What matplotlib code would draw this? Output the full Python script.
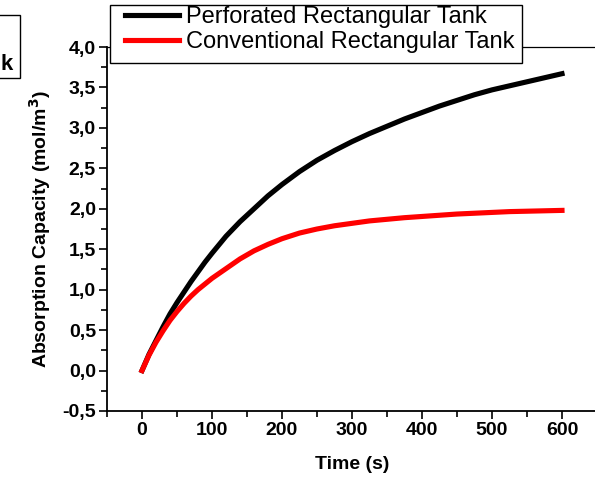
import matplotlib
matplotlib.use("Agg")
import matplotlib.pyplot as plt
from matplotlib.ticker import MultipleLocator, FuncFormatter
from matplotlib.patches import Rectangle

# time (s) and absorption capacity (mol/m3)
time_s = [0, 10, 20, 30, 40, 50, 60, 70, 80, 90, 100, 120, 140, 160, 180, 200, 225, 250,
          275, 300, 325, 350, 375, 400, 425, 450, 475, 500, 525, 550, 575, 600]
perforated = [0.0, 0.20, 0.37, 0.54, 0.70, 0.84, 0.97, 1.10, 1.22, 1.34, 1.45, 1.66, 1.84,
              2.00, 2.16, 2.30, 2.46, 2.60, 2.72, 2.83, 2.93, 3.02, 3.11, 3.19, 3.27, 3.34,
              3.41, 3.47, 3.52, 3.57, 3.62, 3.67]
conventional = [0.0, 0.19, 0.35, 0.49, 0.62, 0.73, 0.83, 0.92, 1.00, 1.07, 1.14, 1.26, 1.38,
                1.48, 1.56, 1.63, 1.70, 1.75, 1.79, 1.82, 1.85, 1.87, 1.89, 1.905, 1.92, 1.935,
                1.945, 1.955, 1.965, 1.97, 1.975, 1.98]
series_names = ["Perforated Rectangular Tank", "Conventional Rectangular Tank"]

plt.rcParams['font.family'] = ['Liberation Sans', 'DejaVu Sans']

W, H = 595, 478
fig = plt.figure(figsize=(W / 100, H / 100), dpi=100)
ax = fig.add_axes([107 / W, 1 - 411 / H, (597 - 107) / W, (411 - 47) / H])

ax.plot(time_s, perforated, color='black', lw=3.7, label=series_names[0])
ax.plot(time_s, conventional, color='red', lw=3.7, label=series_names[1])

ax.set_xlim(-50, 650)
ax.set_ylim(-0.5, 4.0)
ax.xaxis.set_major_locator(MultipleLocator(100))
ax.xaxis.set_minor_locator(MultipleLocator(50))
ax.yaxis.set_major_locator(MultipleLocator(0.5))
ax.yaxis.set_minor_locator(MultipleLocator(0.25))
ax.yaxis.set_major_formatter(FuncFormatter(lambda v, p: f"{v:.1f}".replace('.', ',')))
ax.tick_params(which='both', direction='out', top=False, right=False, width=1.2)
ax.tick_params(which='major', length=6, labelsize=14, pad=2)
ax.tick_params(which='minor', length=4)
for lab in ax.get_xticklabels() + ax.get_yticklabels():
    lab.set_fontweight('bold')
for s in ['left', 'bottom']:
    ax.spines[s].set_linewidth(1.3)
ax.spines['top'].set_linewidth(0.9)

ax.set_xlabel("Time (s)", fontsize=14, fontweight='bold', labelpad=12)
ax.set_ylabel("Absorption Capacity (mol/m$^\\mathbf{3}$)", fontsize=14, fontweight='bold', labelpad=7)

# legend box drawn by hand so the padding matches
fig.patches.append(Rectangle((110 / W, 1 - 63 / H), 412 / W, 58 / H, transform=fig.transFigure,
                             facecolor='white', edgecolor='black', lw=1.0, zorder=3))
leg = fig.legend(loc='upper left', bbox_to_anchor=(125 / W, 1 - 6 / H), fontsize=17,
                 frameon=False, handlelength=2.3, handletextpad=0.3, borderpad=0,
                 labelspacing=0.12, borderaxespad=0)
leg.set_zorder(4)

# stray text box cut off at the left edge
fig.patches.append(Rectangle((-30 / W, 1 - 78 / H), 50 / W, 63 / H, transform=fig.transFigure,
                             fill=False, edgecolor='black', lw=1.0))
fig.text(0.5 / W, 1 - 70 / H, "k", ha='left', va='baseline', fontsize=16, fontweight='bold')

fig.savefig("out.png", dpi=100)
